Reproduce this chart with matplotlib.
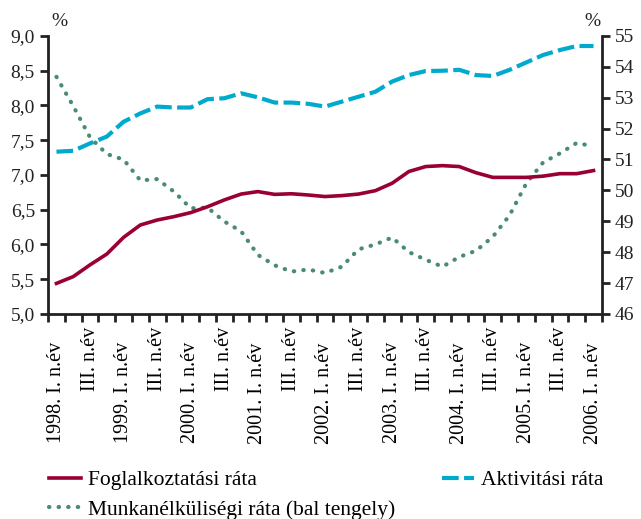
import numpy as np
import matplotlib.pyplot as plt
import matplotlib.transforms as mtrans

plt.rcParams['font.family'] = ['Liberation Serif', 'DejaVu Serif']

# negyedévek 1998 I. - 2006 I.
ev_cimkek = ['1998. I. n.év', 'III. n.év', '1999. I. n.év', 'III. n.év',
             '2000. I. n.év', 'III. n.év', '2001. I. n.év', 'III. n.év',
             '2002. I. n.év', 'III. n.év', '2003. I. n.év', 'III. n.év',
             '2004. I. n.év', 'III. n.év', '2005. I. n.év', 'III. n.év',
             '2006. I. n.év']

# jobb tengely (%)
foglalkoztatasi = [46.99, 47.21, 47.59, 47.94, 48.48, 48.88, 49.04, 49.15,
                   49.28, 49.47, 49.69, 49.88, 49.96, 49.87, 49.89, 49.85,
                   49.80, 49.83, 49.88, 49.99, 50.23, 50.61, 50.77, 50.80,
                   50.77, 50.57, 50.42, 50.42, 50.42, 50.46, 50.54, 50.54,
                   50.64]
aktivitasi = [51.25, 51.28, 51.52, 51.74, 52.22, 52.49, 52.71, 52.68,
              52.68, 52.95, 52.98, 53.14, 53.01, 52.84, 52.84, 52.80,
              52.71, 52.87, 53.03, 53.19, 53.52, 53.73, 53.86, 53.87,
              53.90, 53.73, 53.70, 53.90, 54.14, 54.38, 54.54, 54.67,
              54.67]
# bal tengely (%)
munkanelkuli = [8.41, 7.99, 7.54, 7.30, 7.22, 6.92, 6.94, 6.76,
                6.52, 6.53, 6.33, 6.19, 5.85, 5.70, 5.61, 5.64,
                5.59, 5.68, 5.93, 6.00, 6.10, 5.89, 5.78, 5.68,
                5.82, 5.91, 6.11, 6.42, 6.88, 7.18, 7.31, 7.46,
                7.41]

piros = '#990033'
kek = '#00aacc'
zold = '#4a8c6f'

x = np.arange(len(foglalkoztatasi))

fig = plt.figure(figsize=(6.41, 5.19), dpi=100)
ax = fig.add_axes([0.075, 0.395, 0.864, 0.536])
ax2 = ax.twinx()

l3, = ax.plot(x, munkanelkuli, color=zold, lw=3, linestyle=(0, (0.1, 2.2)),
              dash_capstyle='round')
l1, = ax2.plot(x, foglalkoztatasi, color=piros, lw=2.6)
l2, = ax2.plot(x, aktivitasi, color=kek, lw=3, linestyle=(0, (4, 1.3)))

ax.set_xlim(-0.5, len(x) - 0.5)
ax.set_ylim(5, 9)
ax2.set_ylim(46, 55)
ax.set_yticks(np.arange(5, 9.01, 0.5))
ax.set_yticklabels([f'{v:.1f}'.replace('.', ',') for v in np.arange(5, 9.01, 0.5)])
ax2.set_yticks(np.arange(46, 56, 1))

# osztásjelek a negyedévek határán, feliratok a negyedévek közepén
ax.set_xticks(np.arange(-0.5, len(x), 1))
ax.set_xticklabels([])
ax.set_xticks(x[::2], minor=True)
ax.set_xticklabels(ev_cimkek, minor=True, rotation=90, fontsize=14.5)
ax.tick_params(axis='x', which='minor', length=0, pad=9.5)
for i, lab in enumerate(ax.get_xticklabels(minor=True)):
    if i % 2 == 0:
        lab.set_transform(lab.get_transform() +
                          mtrans.ScaledTranslation(0, -15 / 100, fig.dpi_scale_trans))

for a in (ax, ax2):
    a.spines['top'].set_visible(False)
    for s in a.spines.values():
        s.set_linewidth(2)
        s.set_color('#222222')
    a.tick_params(axis='both', which='major', width=2, length=6, labelsize=14,
                  colors='#222222')
ax2.spines['left'].set_visible(False)
ax.spines['right'].set_visible(False)
ax2.spines['bottom'].set_visible(False)

fig.text(0.092, 0.95, '%', fontsize=14, ha='center', color='#222222')
fig.text(0.925, 0.95, '%', fontsize=14, ha='center', color='#222222')

fig.legend([l1, l3],
           ['Foglalkoztatási ráta', 'Munkanélküliségi ráta (bal tengely)'],
           loc='upper left', bbox_to_anchor=(49 / 641, 1 - 470 / 519), frameon=False,
           fontsize=15.5, handlelength=1.5, handletextpad=0.3, labelspacing=0.45,
           borderpad=0, borderaxespad=0)
fig.legend([l2], ['Aktivitási ráta'],
           loc='upper right', bbox_to_anchor=(603 / 641, 1 - 470 / 519), frameon=False,
           fontsize=15.5, handlelength=1.5, handletextpad=0.3,
           borderpad=0, borderaxespad=0)

fig.savefig('out.png', dpi=100)
